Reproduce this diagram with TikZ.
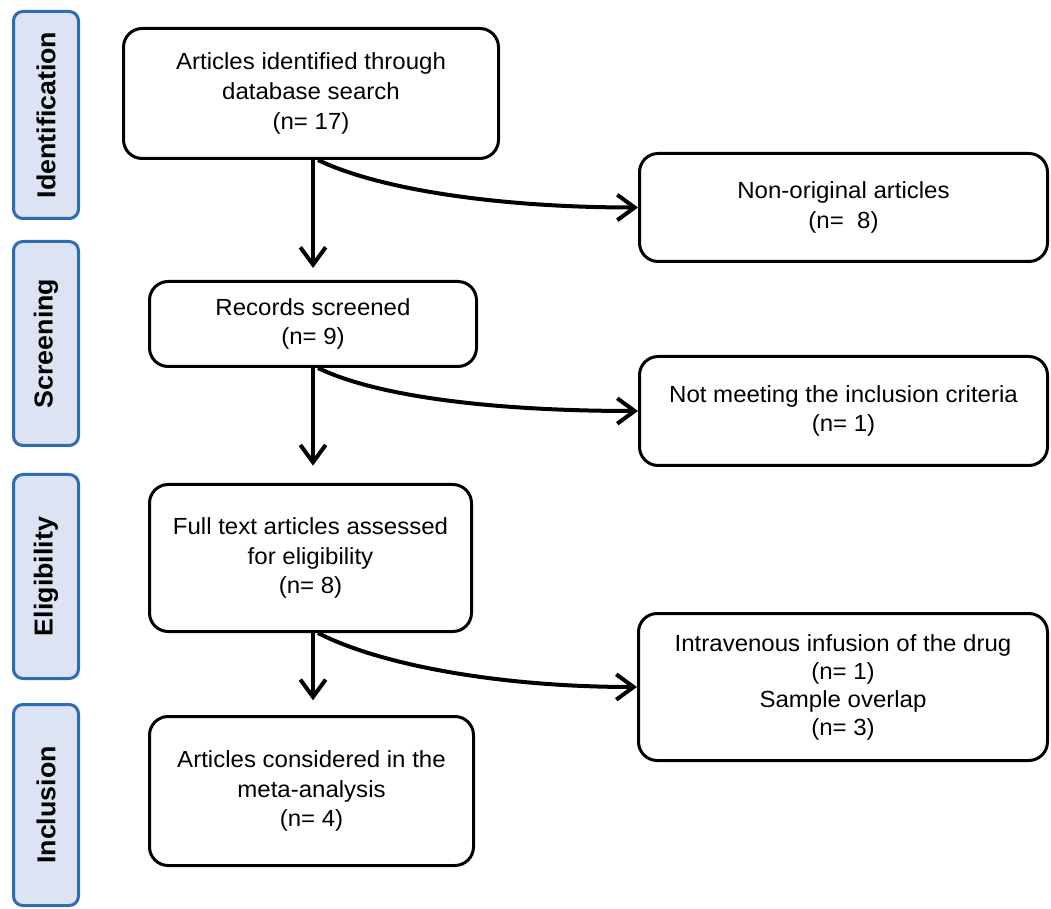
\documentclass[tikz,border=0pt]{standalone}
\usepackage{fontspec}
\setmainfont{Liberation Sans}[FakeStretch=1.03]
\usetikzlibrary{arrows.meta,calc}
\definecolor{sidefill}{RGB}{220,227,242}
\definecolor{sidedraw}{RGB}{46,109,180}
\begin{document}
\begin{tikzpicture}[x=0.75pt,y=-0.75pt,
  sidebox/.style={draw=sidedraw,fill=sidefill,line width=2.25pt,rounded corners=7pt,
    rotate=90,inner sep=0pt,font=\fontsize{19.5}{22}\selectfont\bfseries},
  mainbox/.style={draw=black,line width=2.25pt,rounded corners=14pt,fill=white,
    inner sep=0pt,align=center,font=\fontsize{17.5}{22.3}\selectfont},
  arr/.style={line width=3pt,-{Straight Barb[length=13pt,width=19pt]}},
]
\useasboundingbox (0,0) rectangle (1051,909);
% phase labels
\node[sidebox,minimum width=207*0.75pt,minimum height=65*0.75pt] (sid) at (46,115) {Identification};
\node[sidebox,minimum width=204*0.75pt,minimum height=65*0.75pt] (ssc) at (46,343.5) {Screening};
\node[sidebox,minimum width=204*0.75pt,minimum height=65*0.75pt] (sel) at (46,576.5) {Eligibility};
\node[sidebox,minimum width=201*0.75pt,minimum height=65*0.75pt] (sin) at (46,805) {Inclusion};
% main column
\node[mainbox,minimum width=375*0.75pt,minimum height=130*0.75pt] (b1) at (311,93.5)
  {Articles identified through\\database search\\(n= 17)};
\node[mainbox,minimum width=327*0.75pt,minimum height=85*0.75pt] (b2) at (313,324)
  {Records screened\\(n= 9)};
\node[mainbox,minimum width=322*0.75pt,minimum height=147*0.75pt] (b3) at (310.5,558)
  {Full text articles assessed\\for eligibility\\(n= 8)};
\node[mainbox,minimum width=324*0.75pt,minimum height=149*0.75pt] (b4) at (311.5,791)
  {Articles considered in the\\meta-analysis\\(n= 4)};
% exclusions
\node[mainbox,minimum width=408*0.75pt,minimum height=108*0.75pt] (n1) at (843.5,207.5)
  {Non-original articles\\(n=\ \ 8)};
\node[mainbox,minimum width=408*0.75pt,minimum height=109*0.75pt] (n2) at (843.5,411)
  {Not meeting the inclusion criteria\\(n= 1)};
\node[mainbox,minimum width=409*0.75pt,minimum height=147*0.75pt,
  font=\fontsize{17.5}{21}\selectfont] (n3) at (843,687)
  {Intravenous infusion of the drug\\(n= 1)\\Sample overlap\\(n= 3)};
% vertical arrows
\draw[arr,shorten >=9pt] (b2.north |- b1.south) -- (b2.north);
\draw[arr,shorten >=13pt] (b2.south) -- (b2.south |- b3.north);
\draw[arr,shorten >=11pt] (b2.north |- b3.south) -- (b2.north |- b4.north);
% curved arrows
\draw[arr] ($(b2.north |- b1.south)+(5,0)$) .. controls +(62,30) and +(-137,0) .. (n1.west);
\draw[arr] ($(b2.south)+(5,0)$) .. controls +(62,30) and +(-137,0) .. (n2.west);
\draw[arr] ($(b2.north |- b3.south)+(5,0)$) .. controls +(62,32) and +(-137,0) .. (n3.west);
\end{tikzpicture}
\end{document}
